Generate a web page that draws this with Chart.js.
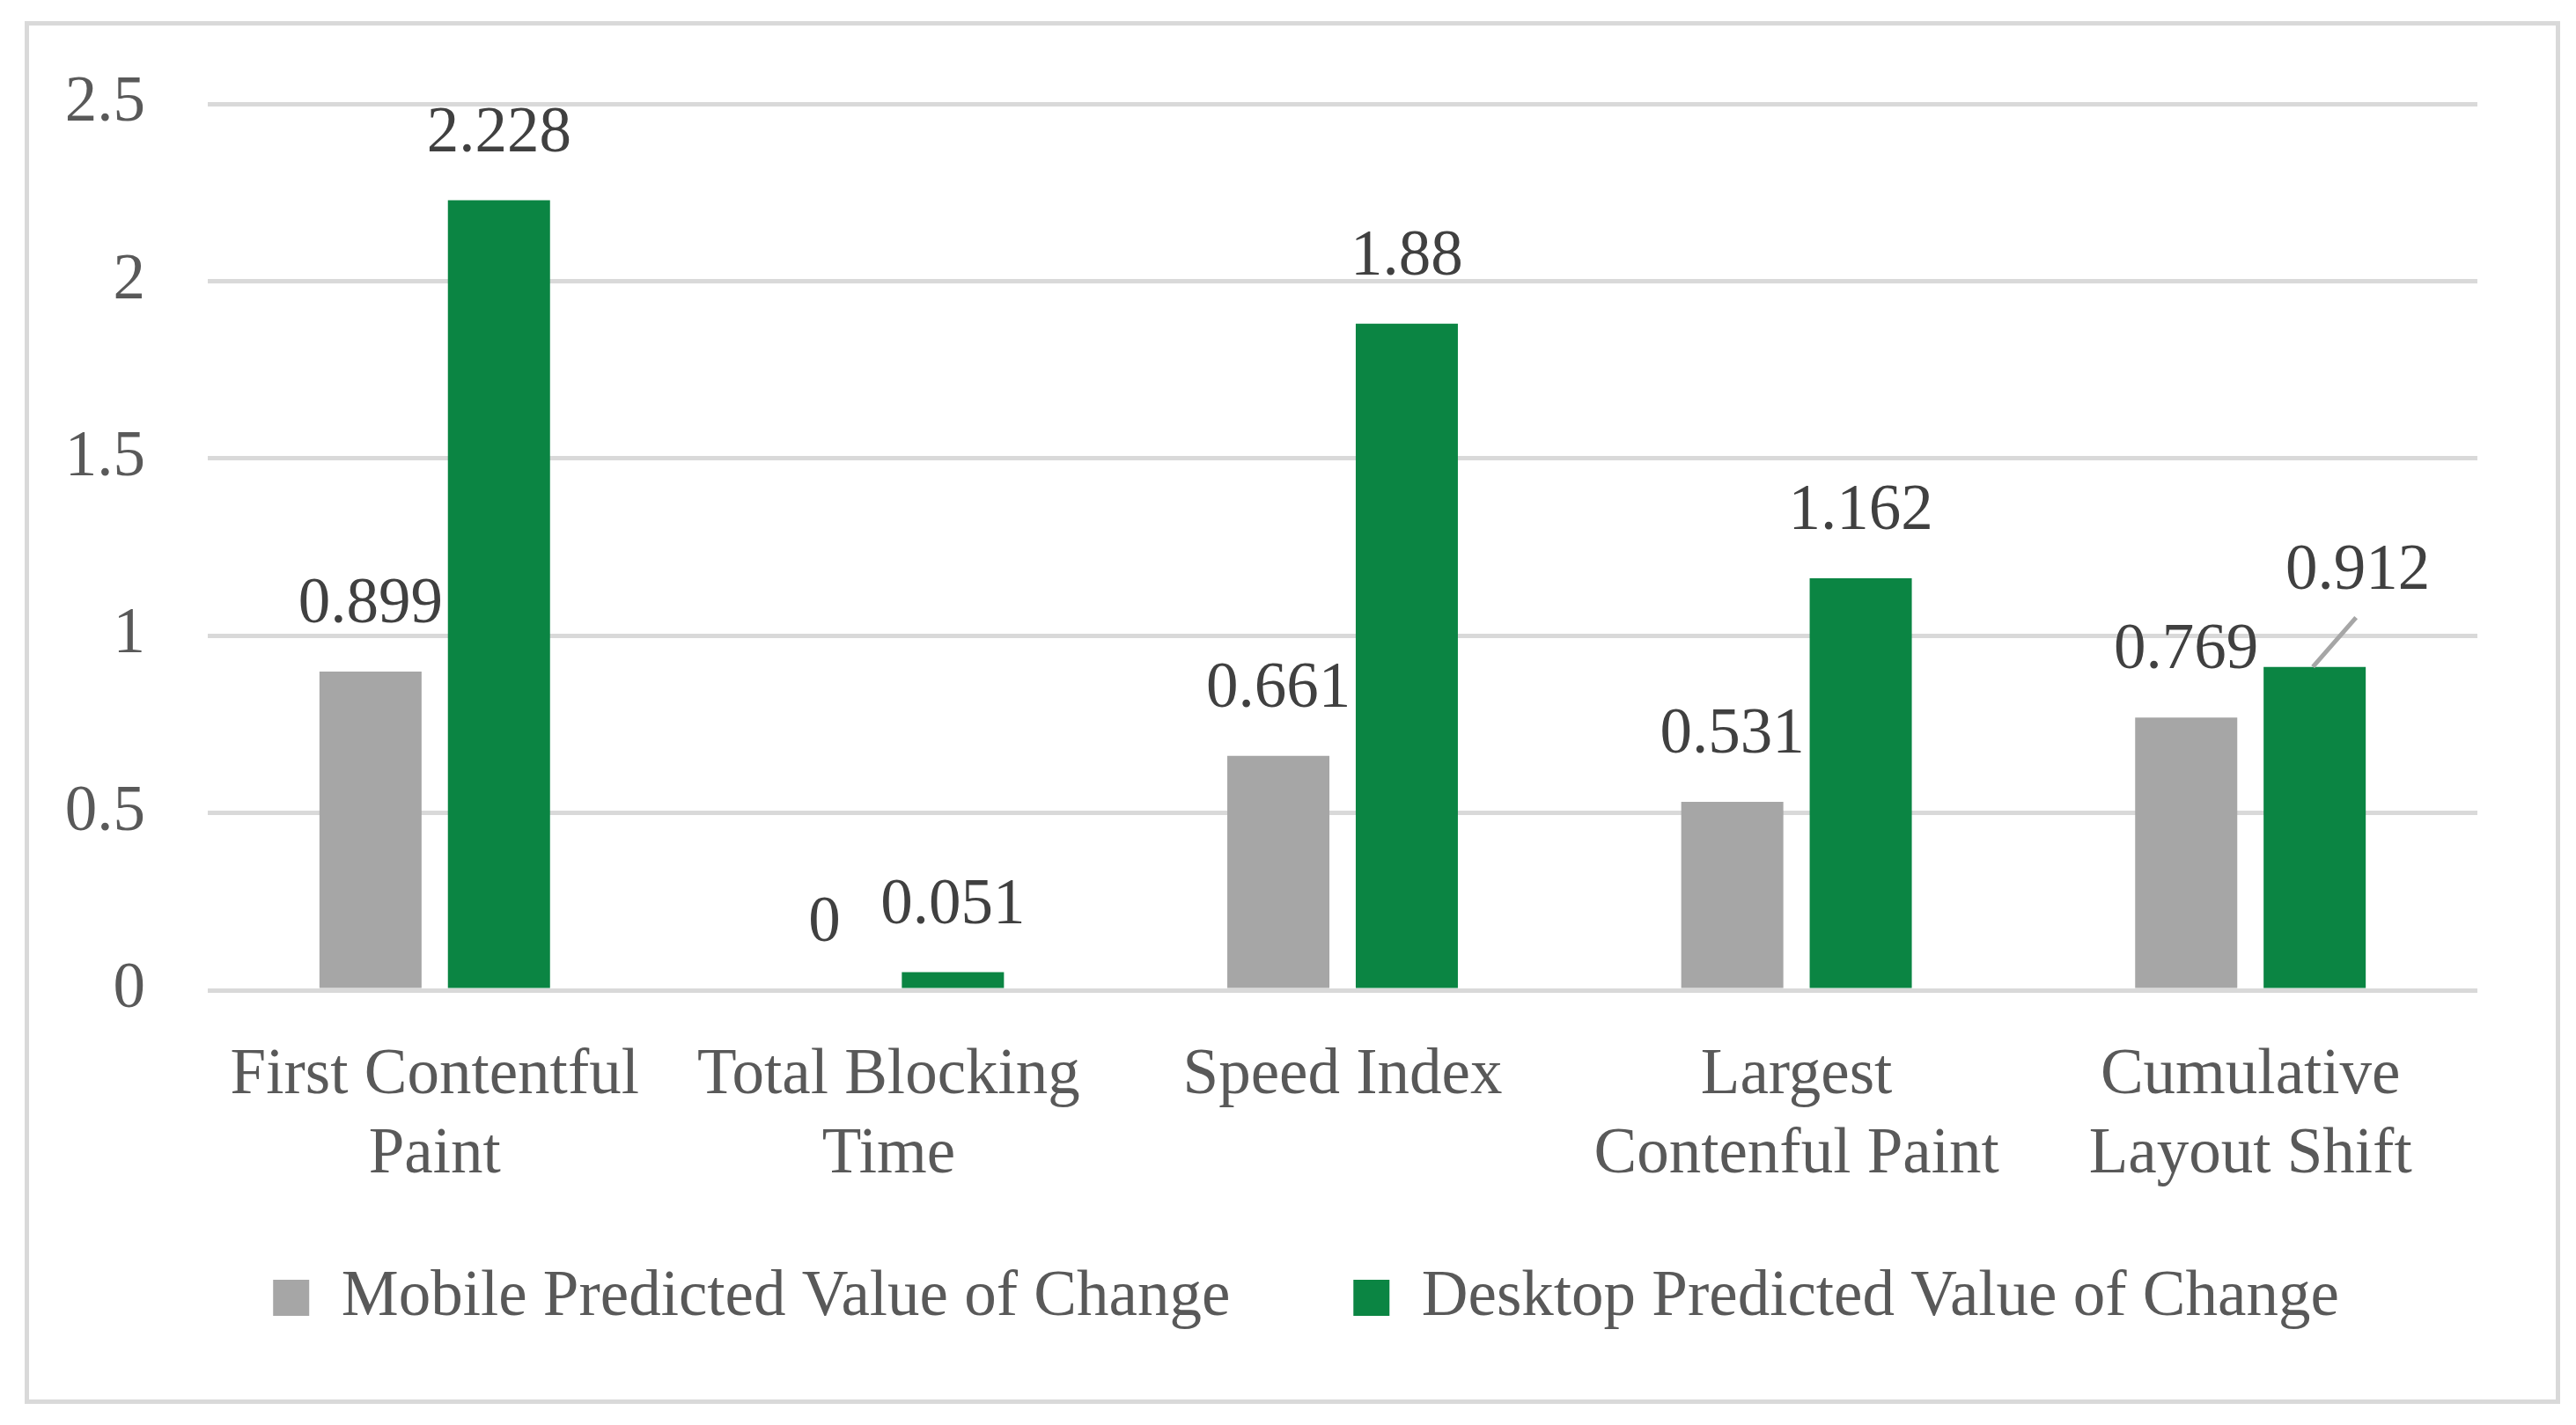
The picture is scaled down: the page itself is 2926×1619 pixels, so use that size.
<!DOCTYPE html>
<html>
<head>
<meta charset="utf-8">
<script src="https://cdn.jsdelivr.net/npm/chart.js@4.4.0/dist/chart.umd.min.js"></script>
<style>
html, body { margin: 0; padding: 0; background: #fff; }
#caja { position: absolute; left: 28px; top: 24px; width: 2870px; height: 1561px; border: 5px solid #d9d9d9; }
</style>
</head>
<body>
<div id="caja"><canvas id="grafico"></canvas></div>
<script>
const categorias = [["First Contentful", "Paint"], ["Total Blocking", "Time"], ["Speed Index"], ["Largest", "Contenful Paint"], ["Cumulative", "Layout Shift"]];
const mobile = [0.899, 0, 0.661, 0.531, 0.769];
const desktop = [2.228, 0.051, 1.88, 1.162, 0.912];
const yTicks = [0, 0.5, 1, 1.5, 2, 2.5];

const fuente = "'Liberation Serif', serif";

// value labels above the bars; the last desktop one sits aside with a leader line
const etiquetas = {
    id: "etiquetas",
    afterDatasetsDraw(chart) {
        const ctx = chart.ctx;
        ctx.save();
        ctx.font = "73px " + fuente;
        ctx.fillStyle = "#404040";
        ctx.textAlign = "center";
        ctx.textBaseline = "middle";
        chart.data.datasets.forEach((ds, i) => {
            chart.getDatasetMeta(i).data.forEach((bar, j) => {
                let x = bar.x;
                let y = bar.y - 75;
                if (i === 1 && j === ds.data.length - 1) {
                    ctx.strokeStyle = "#a6a6a6";
                    ctx.lineWidth = 5;
                    ctx.beginPath();
                    ctx.moveTo(bar.x - 2, bar.y);
                    ctx.lineTo(bar.x + 47, bar.y - 56);
                    ctx.stroke();
                    x = bar.x + 49;
                    y = bar.y - 108;
                }
                ctx.fillText(String(ds.data[j]), x, y);
            });
        });
        ctx.restore();
    }
};

// move the legend a bit, like in the original
const moverLeyenda = {
    id: "moverLeyenda",
    afterLayout(chart) {
        const l = chart.legend;
        l.left += 60; l.right += 60;
        l.top -= 67; l.bottom -= 67;
    }
};

new Chart(document.getElementById("grafico"), {
    type: "bar",
    data: {
        labels: categorias,
        datasets: [{
            label: "Mobile Predicted Value of Change",
            data: mobile,
            backgroundColor: "#a6a6a6"
        }, {
            label: "Desktop Predicted Value of Change",
            data: desktop,
            backgroundColor: "#0b8543"
        }]
    },
    options: {
        responsive: true,
        maintainAspectRatio: false,
        animation: false,
        devicePixelRatio: 1,
        categoryPercentage: 0.566,
        barPercentage: 0.795,
        layout: {
            padding: { left: 0, right: 89, top: 89, bottom: 2 }
        },
        plugins: {
            tooltip: { enabled: false },
            legend: {
                position: "bottom",
                labels: {
                    boxWidth: 41,
                    boxHeight: 41,
                    padding: 140,
                    color: "#595959",
                    font: { family: fuente, size: 73 }
                }
            }
        },
        scales: {
            x: {
                grid: { display: false },
                border: { display: false },
                ticks: {
                    color: "#595959",
                    padding: 45,
                    maxRotation: 0,
                    autoSkip: false,
                    font: { family: fuente, size: 73, lineHeight: 1.23 }
                },
                afterFit(scale) { scale.height = 240; }
            },
            y: {
                min: 0,
                max: 2.5,
                afterBuildTicks(scale) { scale.ticks = yTicks.map(v => ({ value: v })); },
                afterFit(scale) { scale.width = 203; scale.paddingTop = 0; },
                grid: { color: "#d9d9d9", lineWidth: 5, drawTicks: false },
                border: { display: false },
                ticks: {
                    color: "#595959",
                    padding: 71,
                    font: { family: fuente, size: 73 },
                    callback: v => String(v)
                }
            }
        }
    },
    plugins: [etiquetas, moverLeyenda]
});
</script>
</body>
</html>
